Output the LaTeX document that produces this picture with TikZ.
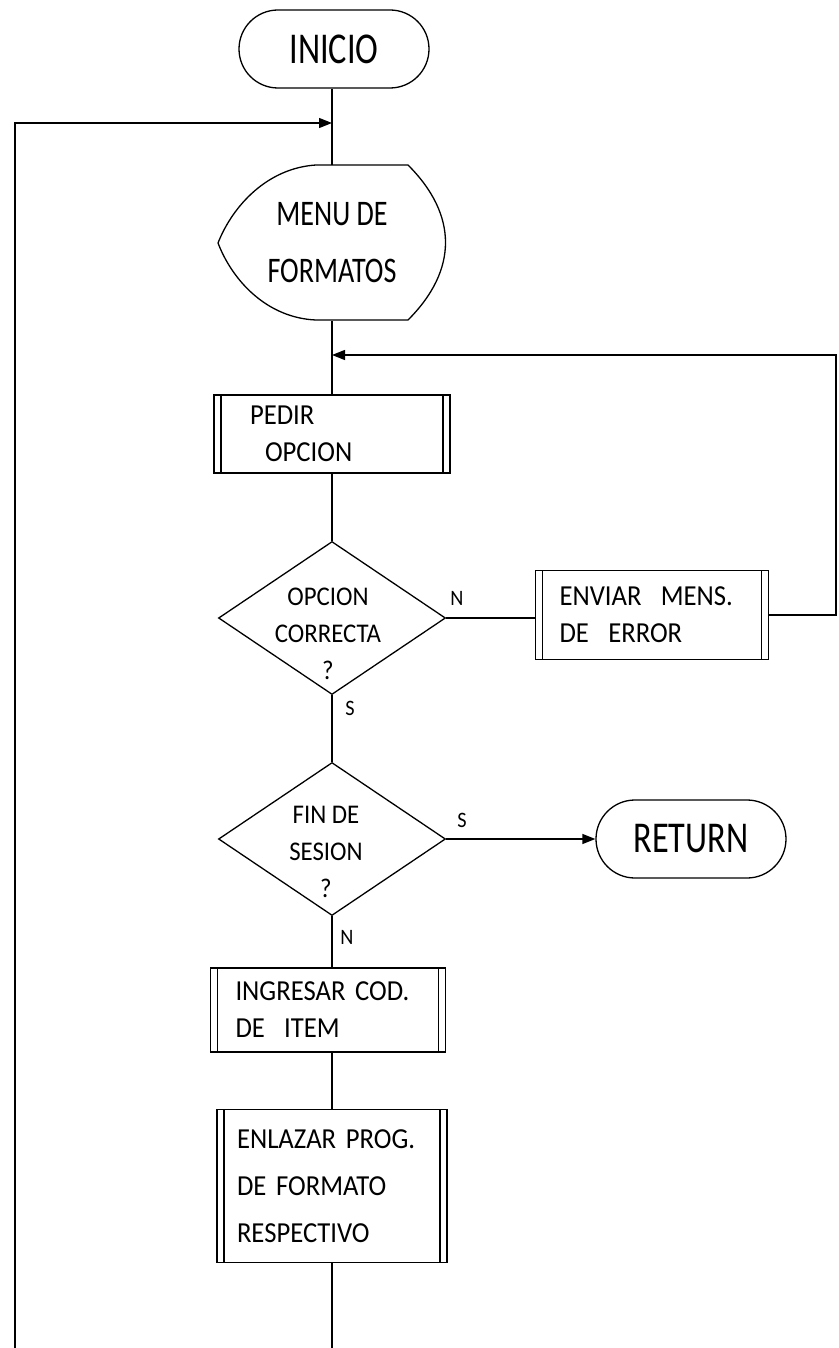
\documentclass[tikz,border=0pt]{standalone}
\usepackage{fontspec}
\setmainfont{Carlito}[FakeStretch=0.92]
\newfontfamily\angosta{Carlito}[FakeStretch=0.78]
\usetikzlibrary{shapes.geometric,shapes.misc,arrows.meta}

\tikzset{
    terminal/.style={draw, rounded rectangle, minimum width=190pt, minimum height=78pt, inner sep=0pt, font=\angosta\fontsize{44}{50}\selectfont},
    proceso/.style={draw, rectangle, align=left, inner ysep=0pt, font=\fontsize{29}{37}\selectfont,
        path picture={\draw ([xshift=7pt]path picture bounding box.north west) -- ([xshift=7pt]path picture bounding box.south west);
                      \draw ([xshift=-7pt]path picture bounding box.north east) -- ([xshift=-7pt]path picture bounding box.south east);}},
    decision/.style={draw, diamond, minimum width=227pt, minimum height=153pt, inner sep=0pt},
    texto/.style={align=center, font=\fontsize{27}{37}\selectfont},
    rotulo/.style={font=\fontsize{22}{22}\selectfont},
    flecha/.style={-{Triangle[length=13pt,width=10pt]}}
}

\begin{document}
\begin{tikzpicture}[x=1pt, y=-1pt, line width=1.3pt]
    \useasboundingbox (0,0) rectangle (838,1348);

    \node[terminal] (inicio) at (334,49) {INICIO};
    \node[align=center, minimum width=228pt, minimum height=155pt, font=\angosta\fontsize{36}{57}\selectfont] (menu) at (332,243) {MENU DE\\FORMATOS};
    \draw (316,165) -- (408,165) .. controls (458,215) and (458,270) .. (408,320) -- (316,320) .. controls (268,318) and (233,282) .. (218,243) .. controls (233,205) and (268,168) .. (316,165) -- cycle;
    \node[proceso, text width=164pt, inner xsep=36pt, minimum height=78pt] (pedir) at (332,434) {PEDIR\\\hspace*{15pt}OPCION};
    \node[decision] (opcion) at (332,618) {};
    \node[texto] (opciontxt) at (328,634) {OPCION\\CORRECTA\\?};
    \node[proceso, text width=185pt, inner xsep=24pt, minimum height=89pt] (enviar) at (652,615) {ENVIAR\ \ MENS.\\DE\ \ ERROR};
    \node[decision] (fin) at (332,839) {};
    \node[texto] (fintxt) at (326,852) {FIN DE\\SESION\\?};
    \node[terminal] (ret) at (691,839) {RETURN};
    \node[proceso, text width=185pt, inner xsep=25pt, minimum height=84pt] (ingresar) at (328,1010) {INGRESAR COD.\\DE\ \ ITEM};
    \node[proceso, text width=190pt, inner xsep=20pt, minimum height=153pt, font=\fontsize{29}{47}\selectfont] (enlazar) at (332,1186) {ENLAZAR PROG.\\DE FORMATO\\RESPECTIVO};

    \node[rotulo] (n1) at (457,598) {N};
    \node[rotulo] (s1) at (350,708) {S};
    \node[rotulo] (s2) at (462,820) {S};
    \node[rotulo] (n2) at (347,937) {N};

    \coordinate (j1) at (332,123);
    \coordinate (j2) at (332,355);
    \coordinate (lt) at (15,123);
    \coordinate (lb) at (15,1348);
    \coordinate (rt) at (836,355);
    \coordinate (fondo) at (332,1348);

    \draw (inicio.south -| menu.north) -- (menu.north);
    \draw[flecha] (lb) -- (lt) -- (j1);
    \draw (menu.south) -- (pedir.north);
    \draw[flecha] (enviar.east) -- (enviar.east -| rt) -- (rt) -- (j2);
    \draw (pedir.south) -- (opcion.north);
    \draw (opcion.east) -- (opcion.east -| enviar.west);
    \draw (opcion.south) -- (fin.north);
    \draw[flecha] (fin.east) -- (ret.west);
    \draw (fin.south) -- (fin.south |- ingresar.north);
    \draw (ingresar.south -| enlazar.north) -- (enlazar.north);
    \draw (enlazar.south) -- (fondo);
\end{tikzpicture}
\end{document}
